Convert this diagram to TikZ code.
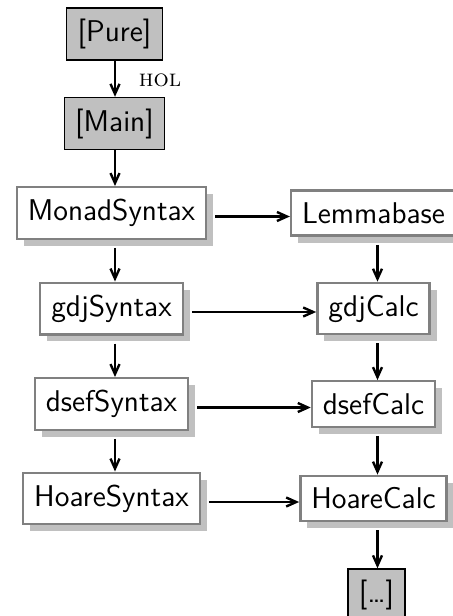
\documentclass[tikz,border=0pt]{standalone}
\usepackage{xcolor}
\usepackage{tikz}
\usetikzlibrary{arrows.meta, shadows}
\definecolor{ThyFrame}{HTML}{808080}
\definecolor{ThyShadow}{HTML}{C0C0C0}
\definecolor{SessionFill}{HTML}{C0C0C0}
\tikzset{
  thynode/.style={draw=ThyFrame, fill=white, rectangle, line width=1.2pt,
                  inner xsep=5.5pt, inner ysep=6pt,
                  font=\fontsize{15}{18}\selectfont\sffamily,
                  drop shadow={shadow xshift=3.5pt, shadow yshift=-3.5pt,
                               fill=ThyShadow, opacity=1}},
  sessnode/.style={draw=black, fill=SessionFill, rectangle, line width=0.7pt,
                   inner xsep=5.5pt, inner ysep=5.5pt,
                   font=\fontsize{15}{18}\selectfont\sffamily},
  edgelabel/.style={font=\large\scshape},
  dep/.style={-{Straight Barb[length=5pt, width=4.5pt]}, line width=1.2pt},
  fromthy/.style={shorten <=4pt}
}

\begin{document}
\begin{tikzpicture}[x=0.5pt, y=-0.5pt]
  \useasboundingbox (0,0) rectangle (452,616);
  \coordinate (colL) at (115,0);
  \coordinate (colR) at (377.5,0);

  % sessions and theories
  \node[sessnode] (Pure)        at (114.5,34)  {[Pure]};
  \node[sessnode] (Main)        at (114.5,123.5) {[Main]};
  \node[thynode]  (MonadSyntax) at (111.5,213)  {MonadSyntax};
  \node[thynode]  (Lemmabase)   at (373.5,213)  {Lemmabase};
  \node[thynode]  (gdjSyntax)   at (111.5,308.5) {gdjSyntax};
  \node[thynode]  (gdjCalc)     at (373.5,308.5) {gdjCalc};
  \node[thynode]  (dsefSyntax)  at (111.5,404)  {dsefSyntax};
  \node[thynode]  (dsefCalc)    at (373.5,404)  {dsefCalc};
  \node[thynode]  (HoareSyntax) at (111.5,498.5) {HoareSyntax};
  \node[thynode]  (HoareCalc)   at (373.5,498.5) {HoareCalc};
  \node[sessnode] (More)        at (376.5,595)  {[\ldots]};

  % imports
  \draw[dep] (Pure.south -| colL) -- node[edgelabel, pos=0.55, right=8pt] {hol} (Main.north -| colL);
  \draw[dep] (Main.south -| colL) -- (MonadSyntax.north -| colL);
  \draw[dep, fromthy] (MonadSyntax.south -| colL) -- (gdjSyntax.north -| colL);
  \draw[dep, fromthy] (gdjSyntax.south -| colL)   -- (dsefSyntax.north -| colL);
  \draw[dep, fromthy] (dsefSyntax.south -| colL)  -- (HoareSyntax.north -| colL);
  \draw[dep, fromthy] (Lemmabase.south -| colR)   -- (gdjCalc.north -| colR);
  \draw[dep, fromthy] (gdjCalc.south -| colR)     -- (dsefCalc.north -| colR);
  \draw[dep, fromthy] (dsefCalc.south -| colR)    -- (HoareCalc.north -| colR);
  \draw[dep, fromthy] (HoareCalc.south -| colR)   -- (More.north -| colR);

  \draw[dep, fromthy] ([yshift=-1.75pt]MonadSyntax.east) -- ([yshift=-1.75pt]MonadSyntax.east -| Lemmabase.west);
  \draw[dep, fromthy] ([yshift=-1.75pt]gdjSyntax.east)   -- ([yshift=-1.75pt]gdjSyntax.east -| gdjCalc.west);
  \draw[dep, fromthy] ([yshift=-1.75pt]dsefSyntax.east)  -- ([yshift=-1.75pt]dsefSyntax.east -| dsefCalc.west);
  \draw[dep, fromthy] ([yshift=-1.75pt]HoareSyntax.east) -- ([yshift=-1.75pt]HoareSyntax.east -| HoareCalc.west);
\end{tikzpicture}
\end{document}
